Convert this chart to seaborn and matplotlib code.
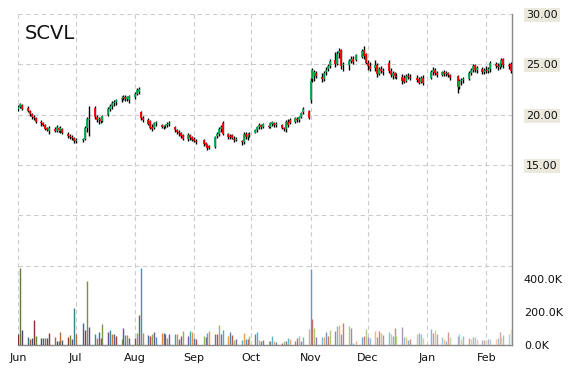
import numpy as np
import pandas as pd
import matplotlib
matplotlib.use("Agg")
import matplotlib.pyplot as plt
import matplotlib.dates as mdates
import seaborn as sns

sns.set_style("white")
plt.rcParams["font.family"] = ["DejaVu Sans"]

ticker = "SCVL"
start_date = "2011-06-01"
market_holidays = ["2011-07-04", "2011-09-05", "2011-11-24", "2011-12-26",
                   "2012-01-02", "2012-01-16"]

open_ = [
    # Jun
    20.6, 20.8, 21.0, 20.7, 20.4, 20.1, 19.8, 19.7, 19.3, 19.2, 19.0, 18.7, 18.4,
    18.6, 18.4, 18.7, 18.4, 18.6, 18.1, 17.9, 17.8, 17.7,
    # Jul
    17.4, 17.5, 17.6, 18.7, 19.5, 20.7, 19.8, 19.5, 19.6, 19.4, 20.0, 20.6, 20.9,
    21.2, 21.3, 21.6, 21.7, 21.8, 21.6, 21.5,
    # Aug
    21.8, 22.1, 22.3, 20.3, 19.7, 19.5, 19.4, 18.8, 18.7, 19.2, 19.0, 18.8, 18.9,
    19.0, 19.1, 18.8, 18.5, 18.3, 18.2, 18.0, 17.6, 18.0, 17.8,
    # Sep
    17.6, 17.4, 17.5, 17.2, 17.0, 16.9, 16.8, 17.9, 18.1, 18.6, 19.2, 18.1, 17.9,
    18.0, 17.6, 17.5, 17.4, 17.3, 18.1, 17.8, 18.1,
    # Oct
    18.2, 18.5, 18.8, 19.0, 18.8, 18.9, 18.8, 19.1, 19.2, 19.0, 19.0, 18.7, 18.6,
    19.3, 19.5, 19.3, 19.6, 19.5, 19.8, 20.3, 20.4,
    # Nov
    21.5, 23.5, 23.8, 24.1, 23.7, 23.5, 24.2, 24.5, 24.8, 25.4, 25.0, 26.1, 26.4,
    24.9, 24.9, 25.3, 25.5, 25.4, 25.7, 26.4, 26.0,
    # Dec
    25.1, 24.8, 24.6, 24.9, 24.0, 24.5, 24.3, 25.1, 24.3, 23.8, 24.1, 23.8, 23.7,
    23.6, 23.3, 23.8, 23.7, 23.6, 23.5, 23.2, 23.6,
    # Jan
    23.6, 24.2, 24.4, 24.1, 23.9, 24.2, 24.0, 24.1, 23.9, 23.8, 22.8, 23.3, 23.4,
    23.5, 24.1, 24.4, 24.9, 24.4, 24.5, 24.2,
    # Feb
    24.4, 24.3, 24.5, 25.0, 24.8, 24.7, 25.0, 25.5, 24.9, 25.0,
]
high = [
    21.0, 21.2, 21.1, 20.9, 20.5, 20.2, 20.0, 19.8, 19.5, 19.3, 19.1, 18.8, 18.9,
    18.8, 19.0, 18.8, 18.9, 18.7, 18.3, 18.1, 18.0, 17.8,
    17.7, 17.7, 18.9, 19.8, 20.9, 20.9, 20.0, 19.8, 19.9, 20.0, 20.8, 21.1, 21.4,
    21.5, 21.6, 21.9, 22.0, 22.0, 21.9, 22.0,
    22.3, 22.7, 22.8, 20.4, 19.9, 19.7, 19.5, 19.1, 19.3, 19.4, 19.1, 19.0, 19.1,
    19.3, 19.4, 18.9, 18.6, 18.5, 18.3, 18.1, 18.2, 18.1, 17.9,
    17.8, 17.6, 17.6, 17.3, 17.1, 17.0, 17.9, 18.3, 18.8, 19.0, 19.4, 18.2, 18.1,
    18.1, 17.9, 17.8, 17.5, 18.3, 18.3, 18.2, 18.3,
    18.6, 18.9, 19.2, 19.1, 19.2, 19.1, 19.3, 19.4, 19.3, 19.3, 19.1, 18.8, 19.5,
    19.6, 19.7, 19.8, 19.8, 19.9, 20.3, 20.8, 20.5,
    23.7, 24.6, 24.4, 24.3, 24.1, 24.3, 24.7, 25.0, 25.5, 26.2, 26.3, 26.6, 26.5,
    25.2, 25.5, 25.8, 25.8, 26.0, 26.5, 26.8, 26.1,
    25.4, 25.2, 25.4, 25.1, 24.7, 24.8, 24.6, 25.4, 24.6, 24.3, 24.2, 24.1, 24.0,
    23.9, 24.0, 24.1, 24.0, 23.9, 23.7, 23.8, 23.9,
    24.4, 24.7, 24.6, 24.3, 24.3, 24.4, 24.3, 24.2, 24.0, 23.9, 23.5, 23.6, 23.7,
    24.3, 24.6, 25.0, 25.0, 24.8, 24.7, 24.6,
    24.8, 24.7, 25.3, 25.2, 25.1, 25.2, 25.6, 25.6, 25.1, 25.2,
]
low = [
    20.4, 20.7, 20.5, 20.3, 19.9, 19.6, 19.5, 19.2, 18.9, 18.9, 18.5, 18.4, 18.1,
    18.3, 18.3, 18.3, 18.2, 18.1, 17.7, 17.6, 17.5, 17.2,
    17.2, 17.3, 17.5, 18.3, 17.9, 19.6, 19.3, 19.1, 19.2, 19.3, 19.9, 20.4, 20.6,
    20.9, 21.0, 21.3, 21.5, 21.4, 21.4, 21.2,
    21.6, 22.0, 22.1, 19.5, 19.3, 19.0, 18.6, 18.4, 18.6, 18.9, 18.7, 18.6, 18.7,
    18.8, 18.9, 18.3, 18.1, 17.9, 17.7, 17.5, 17.4, 17.5, 17.4,
    17.3, 17.1, 16.9, 16.8, 16.5, 16.6, 16.7, 17.7, 17.9, 18.3, 18.0, 17.6, 17.6,
    17.6, 17.3, 17.4, 17.0, 17.1, 17.6, 17.5, 17.8,
    18.2, 18.3, 18.6, 18.6, 18.7, 18.7, 18.7, 18.9, 18.8, 18.8, 18.6, 18.4, 18.3,
    18.8, 19.1, 19.2, 19.3, 19.3, 19.7, 20.1, 19.6,
    21.2, 23.2, 23.3, 23.6, 23.2, 23.3, 23.9, 24.3, 24.6, 24.7, 24.9, 25.6, 24.5,
    24.3, 24.4, 25.1, 25.0, 25.3, 25.6, 25.5, 25.0,
    24.4, 24.3, 24.3, 23.7, 23.9, 24.1, 23.9, 24.1, 23.7, 23.5, 23.6, 23.5, 23.0,
    23.1, 23.2, 23.5, 23.4, 23.2, 23.0, 23.1, 22.9,
    23.5, 23.9, 23.9, 23.7, 23.8, 23.8, 23.8, 23.7, 23.4, 22.2, 22.6, 22.9, 23.1,
    23.4, 23.9, 24.2, 24.2, 24.1, 24.0, 24.0,
    24.1, 24.1, 24.2, 24.6, 24.4, 24.5, 24.7, 24.6, 24.5, 24.1,
]
close = [
    20.8, 21.1, 20.6, 20.4, 20.1, 19.8, 19.7, 19.3, 19.2, 19.0, 18.6, 18.5, 18.7,
    18.4, 18.8, 18.5, 18.7, 18.2, 17.9, 17.8, 17.7, 17.4,
    17.5, 17.6, 18.7, 19.6, 19.6, 19.8, 19.5, 19.6, 19.4, 19.9, 20.6, 20.9, 21.2,
    21.3, 21.5, 21.7, 21.8, 21.6, 21.8, 21.9,
    22.1, 22.5, 22.6, 19.7, 19.5, 19.1, 18.7, 18.6, 19.2, 19.3, 18.8, 18.9, 19.0,
    19.1, 19.2, 18.5, 18.3, 18.2, 17.9, 17.6, 18.0, 17.7, 17.5,
    17.4, 17.3, 17.1, 17.0, 16.7, 16.7, 17.8, 18.1, 18.6, 18.8, 18.1, 17.8, 17.8,
    17.7, 17.5, 17.6, 17.3, 18.1, 17.8, 18.0, 18.0,
    18.5, 18.8, 19.0, 18.8, 19.1, 18.8, 19.2, 19.3, 19.0, 19.1, 18.7, 18.6, 19.3,
    19.0, 19.2, 19.7, 19.5, 19.8, 20.2, 20.6, 19.7,
    23.3, 24.4, 24.2, 23.8, 23.5, 24.1, 24.4, 24.8, 25.3, 25.0, 26.0, 26.3, 24.8,
    25.0, 25.3, 25.5, 25.2, 25.9, 26.3, 25.8, 25.1,
    24.8, 24.5, 24.9, 24.0, 24.5, 24.3, 24.2, 24.3, 23.9, 24.1, 23.8, 23.7, 23.3,
    23.2, 23.8, 23.7, 23.6, 23.4, 23.1, 23.6, 23.1,
    24.2, 24.4, 24.1, 23.9, 24.2, 24.0, 24.1, 23.9, 23.6, 22.8, 23.3, 23.4, 23.5,
    24.1, 24.4, 24.8, 24.4, 24.6, 24.2, 24.4,
    24.3, 24.5, 25.1, 24.8, 24.7, 25.0, 25.4, 24.9, 24.8, 24.3,
]
volume_k = [
    65, 465, 93, 50, 36, 44, 154, 57, 44, 44, 44, 44, 75, 50, 26, 26, 81, 32, 50, 63, 38, 226,
    69, 135, 93, 390, 111, 69, 44, 81, 44, 129, 81, 93, 69, 69, 57, 38, 105, 63, 63, 44,
    40, 75, 184, 465, 75, 63, 57, 69, 81, 50, 75, 75, 69, 44, 69, 69, 69, 38, 57, 87, 57, 87, 81,
    44, 38, 57, 50, 75, 87, 69, 69, 123, 69, 93, 57, 81, 63, 32, 38, 32, 75, 38, 38, 57,
    69, 81, 32, 26, 30, 26, 26, 55, 26, 20, 14, 24, 24, 44, 34, 24, 40, 55, 24, 48, 95,
    460, 160, 101, 46, 46, 46, 77, 55, 91, 85, 115, 119, 67, 131, 115, 101, 14, 24, 46, 55, 95,
    46, 40, 85, 46, 85, 73, 61, 79, 67, 55, 101, 55, 107, 46, 48, 30, 35, 67, 73, 67, 42,
    95, 71, 91, 67, 46, 36, 26, 77, 46, 55, 67, 36, 55, 40, 34, 46, 46, 36, 30, 30,
    30, 34, 34, 34, 40, 77, 46, 61, 67, 95,
]
price_ticks = [5, 10, 15, 20, 25, 30]
price_labels = ["", "", "15.00", "20.00", "25.00", "30.00"]
vol_ticks = [0, 200, 400]
vol_labels = ["0.0K", "200.0K", "400.0K"]

dates = pd.bdate_range(start=start_date, periods=len(close), freq="C",
                       holidays=market_holidays)
df = pd.DataFrame({"date": dates, "open": open_, "high": high, "low": low,
                   "close": close, "volume": volume_k})
x = mdates.date2num(df["date"])

# ---- figure ----
W, H = 570, 370
fig = plt.figure(figsize=(W / 100, H / 100), dpi=100)
left, right, top, bottom = 18, 512, 14, 345
ax = fig.add_axes([left / W, 1 - bottom / H, (right - left) / W, (bottom - top) / H])
axv = fig.add_axes([left / W, 1 - bottom / H, (right - left) / W, 80 / H], sharex=ax)
axv.patch.set_alpha(0)

grid_kw = dict(color="#cccccc", linestyle=(0, (4, 3)), linewidth=0.8)

# price bars
body_col = np.where(df["close"] > df["open"], "#00b050",
                    np.where(df["close"] < df["open"], "#ff0000", "black"))
ax.vlines(x, df["low"], df["high"], color="black", linewidth=1.0, zorder=3)
ax.vlines(x, np.minimum(df["open"], df["close"]), np.maximum(df["open"], df["close"]),
          colors=body_col, linewidth=1.3, zorder=4)

ax.set_ylim(30 - (bottom - top) / 10.07, 30)
ax.set_yticks(price_ticks)
ax.set_yticklabels(price_labels)
ax.yaxis.tick_right()
ax.tick_params(axis="y", length=0, pad=10, labelsize=8, labelcolor="#111111")
for lab in ax.get_yticklabels():
    lab.set_bbox(dict(facecolor="#ebe8dc", edgecolor="none", pad=1.5))
ax.yaxis.grid(True, **grid_kw)
ax.xaxis.grid(True, **grid_kw)

x0 = mdates.date2num(pd.Timestamp(start_date)) - 0.26
ax.set_xlim(x0, x0 + (right - left) / 1.909)
ax.xaxis.set_major_locator(mdates.MonthLocator())
ax.xaxis.set_major_formatter(mdates.DateFormatter("%b"))
ax.tick_params(axis="x", length=2.5, color="#888888", pad=3, labelsize=8,
               labelcolor="#111111")
for s in ["left", "top"]:
    ax.spines[s].set_visible(False)
for s in ["right", "bottom"]:
    ax.spines[s].set_color("#888888")
    ax.spines[s].set_linewidth(1.0)

# volume bars
base = sns.color_palette(["#C0504D", "#9BBB59", "#8064A2", "#4BACC6", "#F79646", "#4F81BD"])
n = len(df)
vcols = []
for i in range(n):
    c = np.array(base[i % 6])
    f = -0.35 + 0.85 * i / (n - 1)
    c = c * (1 + f) if f < 0 else c + (1 - c) * f
    vcols.append(tuple(np.clip(c, 0, 1)))
axv.vlines(x, 0, df["volume"], colors=vcols, linewidth=1.0)
axv.set_ylim(0, 400 * 80 / 66)
axv.set_yticks(vol_ticks)
axv.set_yticklabels(vol_labels)
axv.yaxis.tick_right()
axv.tick_params(axis="y", length=0, pad=8.5, labelsize=8, labelcolor="#111111")
axv.tick_params(axis="x", which="both", bottom=False, labelbottom=False)
for s in axv.spines.values():
    s.set_visible(False)
axv.grid(False)

fig.text(25 / W, 1 - 39 / H, ticker, fontsize=14, va="baseline", ha="left",
         color="#111111")

fig.savefig("out.png", dpi=100)
